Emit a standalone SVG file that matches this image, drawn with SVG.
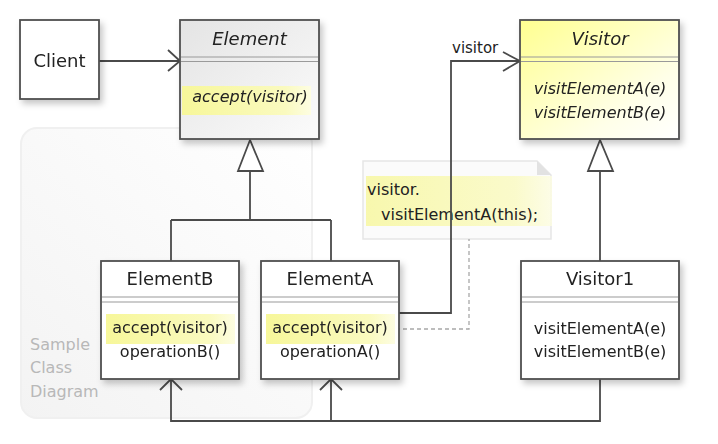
<svg xmlns="http://www.w3.org/2000/svg" width="718" height="444" viewBox="0 0 718 444">
<defs>
  <filter id="sh" x="-20%" y="-20%" width="140%" height="140%">
    <feDropShadow dx="3" dy="4" stdDeviation="3" flood-color="#000" flood-opacity="0.22"/>
  </filter>
  <linearGradient id="gElem" x1="0" y1="0" x2="1" y2="1">
    <stop offset="0" stop-color="#e4e4e4"/>
    <stop offset="1" stop-color="#fbfbfb"/>
  </linearGradient>
  <linearGradient id="gVis" x1="0" y1="0" x2="1" y2="1">
    <stop offset="0" stop-color="#ffff90"/>
    <stop offset="0.7" stop-color="#ffffe8"/>
    <stop offset="1" stop-color="#ffffff"/>
  </linearGradient>
  <linearGradient id="gHi" x1="0" y1="0" x2="1" y2="0">
    <stop offset="0" stop-color="#f7f79a"/>
    <stop offset="0.8" stop-color="#fafabf"/>
    <stop offset="1" stop-color="#fdfde2"/>
  </linearGradient>
  <linearGradient id="gBg" x1="1" y1="0" x2="0" y2="1">
    <stop offset="0" stop-color="#ffffff"/>
    <stop offset="1" stop-color="#f3f3f3"/>
  </linearGradient>
  <style>
    .box { stroke: #505050; stroke-width: 1.8; }
    .sep { stroke: #9a9a9a; stroke-width: 1.2; fill: none; }
    .name { font-family: "DejaVu Sans", "Liberation Sans", sans-serif; font-size: 18px; fill: #222; text-anchor: middle; }
    .mem { font-family: "DejaVu Sans", "Liberation Sans", sans-serif; font-size: 16px; fill: #222; text-anchor: middle; }
    .it { font-style: italic; }
    .lbl { font-family: "DejaVu Sans", "Liberation Sans", sans-serif; font-size: 15px; fill: #222; }
    .note { font-family: "DejaVu Sans", "Liberation Sans", sans-serif; font-size: 16px; fill: #222; }
    .bgtxt { font-family: "DejaVu Sans", "Liberation Sans", sans-serif; font-size: 16px; fill: #b8b8b8; }
    .ln { stroke: #4a4a4a; stroke-width: 1.8; fill: none; }
    .dash { stroke: #a8a8a8; stroke-width: 1.3; fill: none; stroke-dasharray: 4 3; }
    .tri { stroke: #4a4a4a; stroke-width: 1.8; fill: #fff; }
  </style>
</defs>

<g id="background">
  <rect x="21" y="128" width="291" height="290" rx="16" fill="url(#gBg)" stroke="#f0f0f0" stroke-width="2"/>
  <text class="bgtxt" x="30" y="350">Sample</text>
  <text class="bgtxt" x="30" y="373">Class</text>
  <text class="bgtxt" x="30" y="397">Diagram</text>
</g>

<g id="note">
  <path d="M363,161 H537 L551,175 V239 H363 Z" fill="#fbfbfb" stroke="#e6e6e6" stroke-width="1.5"/>
  <path d="M537,161 V175 H551 Z" fill="#e2e2e2"/>
  <rect x="366" y="176" width="186" height="50" fill="url(#gHi)" opacity="0.8"/>
  <text class="note" x="367" y="195">visitor.</text>
  <text class="note" x="381" y="220">visitElementA(this);</text>
</g>

<g id="connectors">
  <!-- Client -> Element -->
  <path class="ln" d="M99,61 H180"/>
  <path class="ln" d="M168,50 L180,61 L168,71"/>
  <!-- Element generalization -->
  <path class="ln" d="M250,171 V220 M171,220 H331 M171,220 V261 M331,220 V261"/>
  <polygon class="tri" points="250,140 238,171 263,171"/>
  <!-- Visitor generalization -->
  <path class="ln" d="M600,171 V261"/>
  <polygon class="tri" points="600,140 588,171 613,171"/>
  <!-- ElementA -> Visitor -->
  <path class="ln" d="M399,313 H451 V61 H520"/>
  <path class="ln" d="M503,52 L520,61 L503,71"/>
  <!-- Visitor1 -> ElementB / ElementA -->
  <path class="ln" d="M600,379 V421 H171 V380 M331,421 V380"/>
  <path class="ln" d="M160,390 L171,379 L182,390 M320,390 L331,379 L342,390"/>
  <!-- note anchor -->
  <path class="dash" d="M396,329 H469 V239"/>
</g>

<g id="Client" filter="url(#sh)">
  <rect class="box" x="20" y="20" width="79" height="79" fill="#fff"/>
  <text class="name" x="59.5" y="67">Client</text>
</g>

<g id="Element" filter="url(#sh)">
  <rect class="box" x="180" y="20" width="139" height="119" fill="url(#gElem)"/>
  <path class="sep" d="M181,57 H318 M181,61.5 H318"/>
  <rect x="182" y="86" width="129" height="29" fill="url(#gHi)"/>
  <text class="name it" x="249.5" y="45">Element</text>
  <text class="mem it" x="250" y="102">accept(visitor)</text>
</g>

<g id="Visitor" filter="url(#sh)">
  <rect class="box" x="520" y="20" width="159" height="119" fill="url(#gVis)"/>
  <path class="sep" d="M521,57 H678 M521,61.5 H678"/>
  <text class="name it" x="600" y="45">Visitor</text>
  <text class="mem it" x="600" y="94">visitElementA(e)</text>
  <text class="mem it" x="600" y="118">visitElementB(e)</text>
</g>

<g id="ElementB" filter="url(#sh)">
  <rect class="box" x="101" y="261" width="138" height="118" fill="#fff"/>
  <path class="sep" d="M102,297 H238 M102,302 H238"/>
  <rect x="106" y="314" width="129" height="30" fill="url(#gHi)"/>
  <text class="name" x="170" y="285">ElementB</text>
  <text class="mem" x="170" y="333">accept(visitor)</text>
  <text class="mem" x="170" y="357">operationB()</text>
</g>

<g id="ElementA" filter="url(#sh)">
  <rect class="box" x="261" y="261" width="138" height="118" fill="#fff"/>
  <path class="sep" d="M262,297 H398 M262,302 H398"/>
  <rect x="266" y="314" width="129" height="30" fill="url(#gHi)"/>
  <text class="name" x="330" y="285">ElementA</text>
  <text class="mem" x="330" y="333">accept(visitor)</text>
  <text class="mem" x="330" y="357">operationA()</text>
</g>

<g id="Visitor1" filter="url(#sh)">
  <rect class="box" x="521" y="261" width="158" height="118" fill="#fff"/>
  <path class="sep" d="M522,297 H678 M522,302 H678"/>
  <text class="name" x="600" y="285">Visitor1</text>
  <text class="mem" x="600" y="334">visitElementA(e)</text>
  <text class="mem" x="600" y="357">visitElementB(e)</text>
</g>

<g id="labels">
  <text class="lbl" x="452" y="53">visitor</text>
</g>
</svg>
